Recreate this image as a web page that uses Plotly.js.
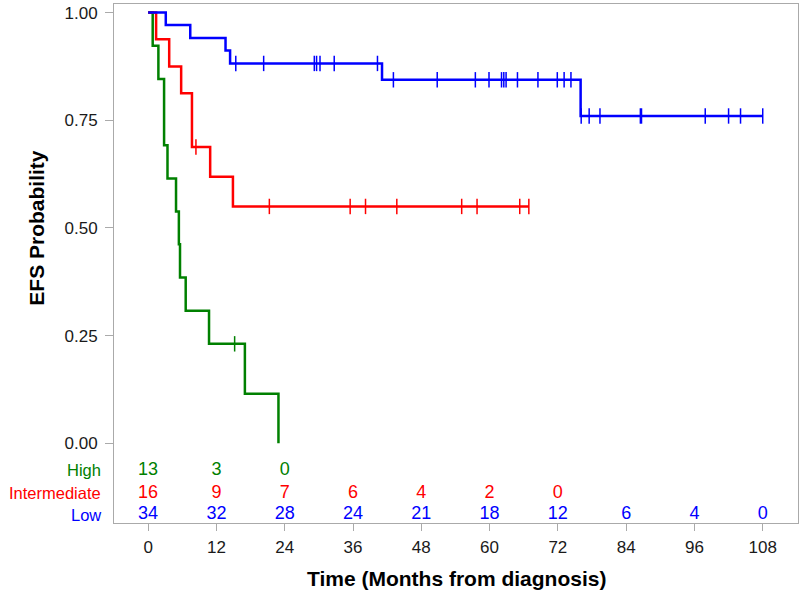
<!DOCTYPE html>
<html>
<head>
<meta charset="utf-8">
<script src="https://cdn.plot.ly/plotly-3.0.1.min.js"></script>
<style>
  body { margin: 0; background: #fff; }
  #plot { width: 800px; height: 596px; }
</style>
</head>
<body>
<div id="plot"></div>
<script>
// Kaplan-Meier step values
var highTime = [0, 0.8, 1.8, 2.8, 3.4, 4.9, 5.4, 5.6, 6.6, 10.7, 17.0, 22.9];
var highSurv = [1, 0.923, 0.846, 0.692, 0.615, 0.538, 0.462, 0.385, 0.308, 0.231, 0.115, 0];
var highCens = [15.2];

var interTime = [0, 1.4, 3.7, 5.8, 7.7, 10.9, 14.9, 66.9];
var interSurv = [1, 0.938, 0.875, 0.813, 0.688, 0.619, 0.550, 0.550];
var interCens = [8.4, 21.3, 35.5, 38.2, 43.7, 55.1, 57.8, 65.3, 66.9];

var lowTime = [0, 3.1, 7.4, 13.6, 14.4, 41.1, 76.0, 108.0];
var lowSurv = [1, 0.971, 0.941, 0.912, 0.882, 0.844, 0.760, 0.760];
var lowCens = [15.4, 20.3, 29.2, 29.6, 30.2, 32.7, 40.3, 43.1, 50.8, 57.5, 59.9, 62.1, 62.5, 62.9,
               64.9, 68.5, 71.9, 73.1, 74.3, 76.1, 77.5, 79.4, 86.5, 86.7, 97.9, 102.0, 104.1, 108.0];

// numbers at risk
var riskTimes = [0, 12, 24, 36, 48, 60, 72, 84, 96, 108];
var highRisk = [13, 3, 0];
var interRisk = [16, 9, 7, 6, 4, 2, 0];
var lowRisk = [34, 32, 28, 24, 21, 18, 12, 6, 4, 0];

var groups = ["High", "Intermediate", "Low"];
var colors = ["#008000", "#ff0000", "#0000ff"];

// survival value at time t from a step curve
function stepAt(times, surv, t) {
  var v = surv[0];
  for (var i = 0; i < times.length; i++) {
    if (times[i] <= t) v = surv[i];
  }
  return v;
}

var curves = [
  [highTime, highSurv, highCens, highRisk],
  [interTime, interSurv, interCens, interRisk],
  [lowTime, lowSurv, lowCens, lowRisk]
];

var rowY = [-0.062, -0.116, -0.166];

var data = [];
curves.forEach(function(c, i) {
  data.push({
    type: "scatter",
    mode: "lines",
    name: groups[i],
    x: c[0],
    y: c[1],
    line: {shape: "hv", color: colors[i], width: 2.5},
    hoverinfo: "skip"
  });
  data.push({
    type: "scatter",
    mode: "markers",
    x: c[2],
    y: c[2].map(function(t) { return stepAt(c[0], c[1], t); }),
    marker: {symbol: "line-ns", size: 11, color: colors[i],
             line: {color: colors[i], width: 1.5}},
    hoverinfo: "skip"
  });
});

// at-risk table inside the frame
curves.forEach(function(c, i) {
  var risk = c[3];
  data.push({
    type: "scatter",
    mode: "text",
    x: riskTimes.slice(0, risk.length),
    y: risk.map(function() { return rowY[i]; }),
    text: risk.map(String),
    textposition: "middle center",
    textfont: {family: "Liberation Sans, Arial, sans-serif", size: 18, color: colors[i]},
    cliponaxis: false,
    hoverinfo: "skip"
  });
});

var annotations = groups.map(function(g, i) {
  return {
    text: g, xref: "paper", yref: "y",
    x: -0.016, y: rowY[i], xanchor: "right", yanchor: "middle",
    showarrow: false,
    font: {family: "Liberation Sans, Arial, sans-serif", size: 16.5, color: colors[i]}
  };
});
annotations.push({
  text: "<b>EFS Probability</b>", xref: "paper", yref: "y",
  x: -0.113, y: 0.5, textangle: -90, xanchor: "center", yanchor: "middle",
  showarrow: false,
  font: {family: "Liberation Sans, Arial, sans-serif", size: 21, color: "#000"}
});
annotations.push({
  text: "<b>Time (Months from diagnosis)</b>", xref: "paper", yref: "paper",
  x: 0.5, y: -0.106, xanchor: "center", yanchor: "middle",
  showarrow: false,
  font: {family: "Liberation Sans, Arial, sans-serif", size: 21, color: "#000"}
});

var layout = {
  width: 800,
  height: 596,
  margin: {l: 114, r: 2, t: 4, b: 73},
  showlegend: false,
  paper_bgcolor: "#fff",
  plot_bgcolor: "#fff",
  font: {family: "Liberation Sans, Arial, sans-serif", size: 17, color: "#1a1a1a"},
  xaxis: {
    range: [-6, 114.2],
    tickvals: riskTimes,
    ticks: "outside",
    ticklen: 7,
    tickcolor: "#aaa",
    ticklabelstandoff: 2,
    showgrid: false,
    zeroline: false,
    showline: true,
    mirror: true,
    linecolor: "#aaa",
    linewidth: 1
  },
  yaxis: {
    range: [-0.185, 1.02],
    tickvals: [0, 0.25, 0.5, 0.75, 1],
    tickformat: ".2f",
    ticks: "outside",
    ticklen: 8,
    tickcolor: "#aaa",
    ticklabelstandoff: 4,
    showgrid: false,
    zeroline: false,
    showline: true,
    mirror: true,
    linecolor: "#aaa",
    linewidth: 1
  },
  annotations: annotations
};

var config = {staticPlot: true};

Plotly.newPlot("plot", data, layout, config);
</script>
</body>
</html>
